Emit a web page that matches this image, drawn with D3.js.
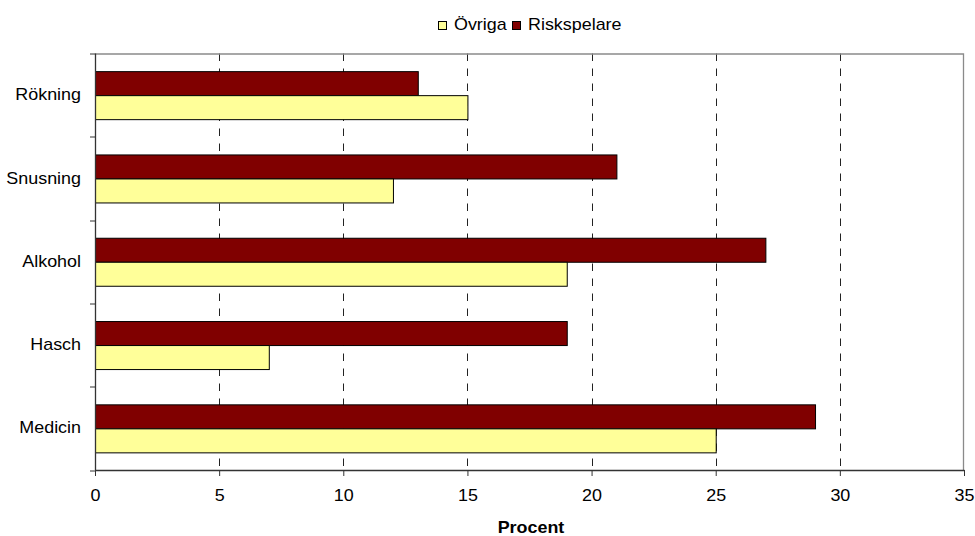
<!DOCTYPE html>
<html>
<head>
<meta charset="utf-8">
<script src="https://cdn.jsdelivr.net/npm/d3@7"></script>
<style>
  body { margin: 0; background: #fff; }
  text { font-family: "Liberation Sans", Arial, sans-serif; fill: #000; }
</style>
</head>
<body>
<div class="chart"></div>
<script>
// Data
const categories = ['Rökning', 'Snusning', 'Alkohol', 'Hasch', 'Medicin'];
const series = ['Riskspelare', 'Övriga'];
const riskspelare = [13, 21, 27, 19, 29];
const ovriga = [15, 12, 19, 7, 25];
const xTicks = [0, 5, 10, 15, 20, 25, 30, 35];
const legendOrder = ['Övriga', 'Riskspelare'];
const colors = {'Riskspelare': '#800000', 'Övriga': '#ffff99'};

// Text in the original is a bit wider than tall
const sx = 1.12;
const fontSize = '16px';

// Dimensions
const W = 975, H = 536;
const margin = {top: 53.5, right: 11, bottom: 66, left: 95};
const width = W - margin.left - margin.right;
const height = H - margin.top - margin.bottom;

const rows = categories.map((c, i) => ({
	cat: c,
	values: {'Riskspelare': riskspelare[i], 'Övriga': ovriga[i]}
}));

// Scales
const x = d3.scaleLinear().domain([0, 35]).range([0, width]);
const y = d3.scaleBand().domain(categories).range([0, height]).padding(0);
const yInner = d3.scaleBand().domain(series).range([0, y.bandwidth()])
	.paddingInner(0).paddingOuter(0.735);

const svg = d3.select('.chart').append('svg')
	.attr('width', W).attr('height', H)
	.append('g')
	.attr('transform', `translate(${margin.left}, ${margin.top})`);

// Dashed vertical grid
svg.append('g').attr('class', 'grid')
	.selectAll('line')
	.data(xTicks.filter(d => d > 0 && d < 35))
	.enter().append('line')
	.attr('x1', d => Math.round(x(d)) + 0.5)
	.attr('x2', d => Math.round(x(d)) + 0.5)
	.attr('y1', 0).attr('y2', height)
	.attr('stroke', '#222')
	.attr('stroke-dasharray', '7.5,7.5');

// Plot border (top, right)
svg.append('path')
	.attr('d', `M0,0.5H${width - 0.5}V${height}`)
	.attr('fill', 'none')
	.attr('stroke', '#8a8a8a')
	.attr('stroke-width', 1.3);

// Bars
const groups = svg.append('g').attr('class', 'bars')
	.selectAll('g')
	.data(rows)
	.enter().append('g')
	.attr('transform', d => `translate(0, ${y(d.cat)})`);

groups.selectAll('rect')
	.data(d => series.map(s => ({key: s, value: d.values[s]})))
	.enter().append('rect')
	.attr('x', x(0) + 0.5)
	.attr('y', d => yInner(d.key) + 0.5)
	.attr('width', d => x(d.value) - x(0))
	.attr('height', yInner.bandwidth())
	.attr('fill', d => colors[d.key])
	.attr('stroke', '#000')
	.attr('stroke-width', 1);

function stretch(sel) {
	sel.each(function() {
		const t = d3.select(this);
		const xv = +(t.attr('x') || 0);
		t.attr('x', xv / sx).attr('transform', `scale(${sx},1)`);
	});
}

// Y axis: labels at band centres
const yAxis = d3.axisLeft(y).tickSize(0).tickPadding(14);
const yAxisDraw = svg.append('g').attr('class', 'y axis').call(yAxis);
yAxisDraw.select('.domain').remove();
yAxisDraw.selectAll('text')
	.style('font-size', fontSize)
	.call(stretch);

// Y boundary ticks + axis line
const bounds = categories.map(c => y(c)).concat([height]);
svg.append('g').attr('class', 'y-ticks')
	.selectAll('line')
	.data(bounds)
	.enter().append('line')
	.attr('x1', -5).attr('x2', 0)
	.attr('y1', d => Math.round(d) + 0.5).attr('y2', d => Math.round(d) + 0.5)
	.attr('stroke', '#333');
svg.append('line')
	.attr('x1', 0.5).attr('x2', 0.5)
	.attr('y1', 0).attr('y2', height)
	.attr('stroke', '#333').attr('stroke-width', 1.3);

// X axis
const xAxis = d3.axisBottom(x)
	.tickValues(xTicks)
	.tickSize(6)
	.tickSizeOuter(0)
	.tickPadding(14)
	.tickFormat(d3.format('d'));
const xAxisDraw = svg.append('g')
	.attr('class', 'x axis')
	.attr('transform', `translate(0, ${height})`)
	.call(xAxis);
xAxisDraw.select('.domain').attr('stroke', '#333').attr('stroke-width', 1.3);
xAxisDraw.selectAll('.tick line').attr('stroke', '#333');
xAxisDraw.selectAll('text')
	.style('font-size', fontSize)
	.call(stretch);

// Axis title
svg.append('text')
	.attr('x', (width / 2 + 1.5) / sx)
	.attr('y', H - margin.top - 3)
	.attr('transform', `scale(${sx},1)`)
	.attr('text-anchor', 'middle')
	.style('font-size', fontSize)
	.style('font-weight', 'bold')
	.text('Procent');

// Legend
const legend = d3.select('svg').append('g').attr('class', 'legend');
const legendX = [438, 512];
legendOrder.forEach((s, i) => {
	legend.append('rect')
		.attr('x', legendX[i] + 0.5).attr('y', 21.5)
		.attr('width', 8).attr('height', 8)
		.attr('fill', colors[s])
		.attr('stroke', '#000');
	legend.append('text')
		.attr('x', (legendX[i] + 16) / sx)
		.attr('y', 30.5)
		.attr('transform', `scale(${sx},1)`)
		.style('font-size', fontSize)
		.text(s);
});
</script>
</body>
</html>
